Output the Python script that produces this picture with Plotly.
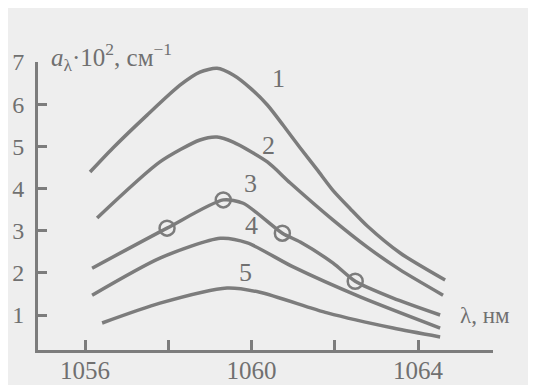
import plotly.graph_objects as go

# Data (wavelength, nm ; absorption a·10^2, cm^-1)
x1 = [1056.12, 1056.67, 1057.49, 1058.28, 1058.76, 1059.17, 1059.56, 1059.97, 1060.38, 1060.76, 1061.17, 1061.58, 1061.96, 1062.37, 1062.78, 1063.57, 1064.65]
y1 = [4.39, 4.96, 5.74, 6.45, 6.76, 6.85, 6.69, 6.38, 5.98, 5.50, 4.96, 4.44, 3.95, 3.52, 3.11, 2.47, 1.83]

x2 = [1056.29, 1057.80, 1058.76, 1059.17, 1059.56, 1060.38, 1060.93, 1061.96, 1062.78, 1063.57, 1064.60]
y2 = [3.30, 4.63, 5.15, 5.22, 5.10, 4.63, 4.13, 3.25, 2.61, 2.07, 1.47]

x3 = [1056.17, 1057.97, 1059.32, 1059.80, 1060.74, 1061.17, 1061.96, 1062.49, 1063.40, 1064.53]
y3 = [2.11, 3.06, 3.73, 3.65, 2.94, 2.73, 2.23, 1.80, 1.40, 1.00]

x3_pts = [1057.97, 1059.32, 1060.74, 1062.49]
y3_pts = [3.06, 3.73, 2.94, 1.80]

x4 = [1056.17, 1057.80, 1059.25, 1059.90, 1061.00, 1062.61, 1064.53]
y4 = [1.47, 2.35, 2.82, 2.71, 2.14, 1.43, 0.69]

x5 = [1056.41, 1057.80, 1059.41, 1060.20, 1061.82, 1063.40, 1064.53]
y5 = [0.81, 1.28, 1.64, 1.54, 1.05, 0.69, 0.48]

curve_labels = ["1", "2", "3", "4", "5"]
label_x = [1060.64, 1060.40, 1059.97, 1060.01, 1059.85]
label_y = [6.62, 5.03, 4.13, 3.13, 2.00]

x_tickvals = [1056, 1058, 1060, 1062, 1064, 1065.78]
x_ticktext = ["1056", "", "1060", "", "1064", ""]
y_tickvals = [1, 2, 3, 4, 5, 6, 7]
y_ticktext = ["1", "2", "3", "4", "5", "6", "7"]

LINE = "#7c7c7c"
TXT = "#707070"
FONT = "Liberation Serif"

fig = go.Figure()
for xs, ys in [(x1, y1), (x2, y2), (x3, y3), (x4, y4), (x5, y5)]:
    fig.add_trace(go.Scatter(x=xs, y=ys, mode="lines",
                             line=dict(color=LINE, width=3.5, shape="spline", smoothing=0.7),
                             showlegend=False, hoverinfo="skip"))
fig.add_trace(go.Scatter(x=x3_pts, y=y3_pts, mode="markers",
                         marker=dict(symbol="circle-open", size=15, color=LINE, line=dict(width=2.5, color=LINE)),
                         showlegend=False, hoverinfo="skip"))

for t, xx, yy in zip(curve_labels, label_x, label_y):
    fig.add_annotation(x=xx, y=yy, text=t, showarrow=False,
                       font=dict(family=FONT, size=26, color=TXT))

fig.add_annotation(x=0.024, y=1.017, xref="paper", yref="paper", xanchor="left", yanchor="middle",
                   text="<i>a</i><sub>λ</sub>·10<sup>2</sup>, см<sup>−1</sup>", showarrow=False,
                   font=dict(family=FONT, size=25, color=TXT))
fig.add_annotation(x=1064.96, y=1.0, xanchor="left", yanchor="middle",
                   text="λ, нм", showarrow=False,
                   font=dict(family=FONT, size=23, color=TXT))

fig.update_xaxes(range=[1054.87, 1065.8], showline=True, linewidth=3, linecolor=LINE,
                 ticks="inside", ticklen=10, tickwidth=2.5, tickcolor=LINE,
                 tickvals=x_tickvals, ticktext=x_ticktext, showgrid=False, zeroline=False,
                 ticklabelstandoff=-4, automargin=False,
                 tickfont=dict(family=FONT, size=25, color=TXT))
fig.update_yaxes(range=[0.17, 7.0], showline=True, linewidth=3, linecolor=LINE,
                 ticks="inside", ticklen=9, tickwidth=2.5, tickcolor=LINE,
                 tickvals=y_tickvals, ticktext=y_ticktext, showgrid=False, zeroline=False,
                 ticklabelstandoff=6, automargin=False,
                 tickfont=dict(family=FONT, size=24, color=TXT))

# page body has an 8px margin, so the figure is sized/offset to compensate
fig.update_layout(width=528, height=377, margin=dict(l=30, r=43, t=54, b=35),
                  plot_bgcolor="#eeeeee", paper_bgcolor="#eeeeee")

fig.write_html("out.html")
